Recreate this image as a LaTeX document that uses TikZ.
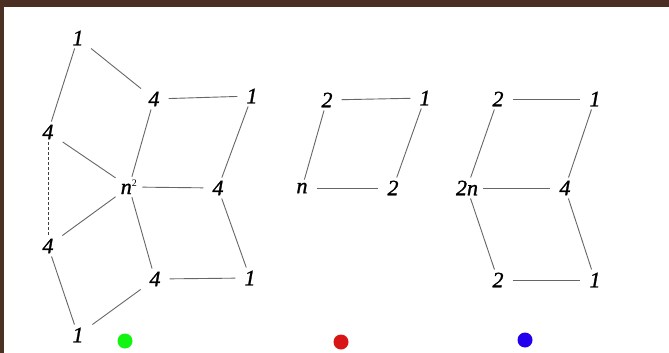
\documentclass[tikz,border=0pt]{standalone}
\usepackage{fontspec}
\setmainfont{Liberation Serif}
\newfontfamily\labfont[ItalicFeatures={FakeBold=1.2}]{Liberation Serif}
\begin{document}
\begin{tikzpicture}[x=1pt,y=-1pt,
  lab/.style={inner xsep=9pt,inner ysep=3pt,font=\labfont\fontsize{22}{24}\selectfont\itshape},
  edge/.style={draw=black!60,line width=0.9pt},
  dedge/.style={draw=black!75,line width=0.8pt,dash pattern=on 3pt off 2pt},
  dot/.style={circle,inner sep=0pt,minimum size=15pt}]
\useasboundingbox (0,0) rectangle (669,353);
\fill[white] (0,0) rectangle (669,353);
\fill[fill={rgb,255:red,75;green,47;blue,35}] (0,0) rectangle (669,7);
\fill[fill={rgb,255:red,75;green,48;blue,36}] (0,0) rectangle (4,353);
% left graph
\node[lab] (a1) at (78,38) {1};
\node[lab] (a4) at (154,99) {4};
\node[lab] (aR1) at (252,96) {1};
\node[lab] (aL4) at (48,132) {4};
\node[lab,inner xsep=5pt] (aN) at (129,187) {n\textsuperscript{\upshape\fontsize{10}{10}\selectfont 2}};
\node[lab] (aM4) at (218,188) {4};
\node[lab] (aLL4) at (48,246) {4};
\node[lab] (aB4) at (155,279) {4};
\node[lab] (aBR1) at (250,278) {1};
\node[lab] (aB1) at (78,335) {1};
\draw[edge] (a1) -- (a4);
\draw[edge] (a1) -- (aL4);
\draw[edge] (a4) -- (aR1);
\draw[edge] (a4) -- (aN);
\draw[edge] (aR1) -- (aM4);
\draw[edge] (aL4) -- (aN);
\draw[dedge] (aL4) -- (aLL4);
\draw[edge] (aN) -- (aM4);
\draw[edge] (aN) -- (aLL4);
\draw[edge] (aN) -- (aB4);
\draw[edge] (aM4) -- (aBR1);
\draw[edge] (aB4) -- (aBR1);
\draw[edge] (aLL4) -- (aB1);
\draw[edge] (aB4) -- (aB1);
% middle graph
\node[lab] (b2) at (327,100) {2};
\node[lab] (b1) at (425,98) {1};
\node[lab] (bn) at (302,188) {n};
\node[lab] (b22) at (393,188) {2};
\draw[edge] (b2) -- (b1);
\draw[edge] (b2) -- (bn);
\draw[edge] (b1) -- (b22);
\draw[edge] (bn) -- (b22);
% right graph
\node[lab] (c2) at (498,99) {2};
\node[lab] (c1) at (595,99) {1};
\node[lab,inner xsep=5pt] (c2n) at (467,188) {2n};
\node[lab] (c4) at (565,188) {4};
\node[lab] (cb2) at (498,280) {2};
\node[lab] (cb1) at (595,280) {1};
\draw[edge] (c2) -- (c1);
\draw[edge] (c2) -- (c2n);
\draw[edge] (c1) -- (c4);
\draw[edge] (c2n) -- (c4);
\draw[edge] (c2n) -- (cb2);
\draw[edge] (c4) -- (cb1);
\draw[edge] (cb2) -- (cb1);
% dots
\node[dot,fill={rgb,255:red,17;green,245;blue,17}] (g) at (125,341) {};
\node[dot,fill={rgb,255:red,216;green,20;blue,20}] (r) at (341,342) {};
\node[dot,fill={rgb,255:red,34;green,0;blue,238}] (bl) at (525,340) {};
\end{tikzpicture}
\end{document}
